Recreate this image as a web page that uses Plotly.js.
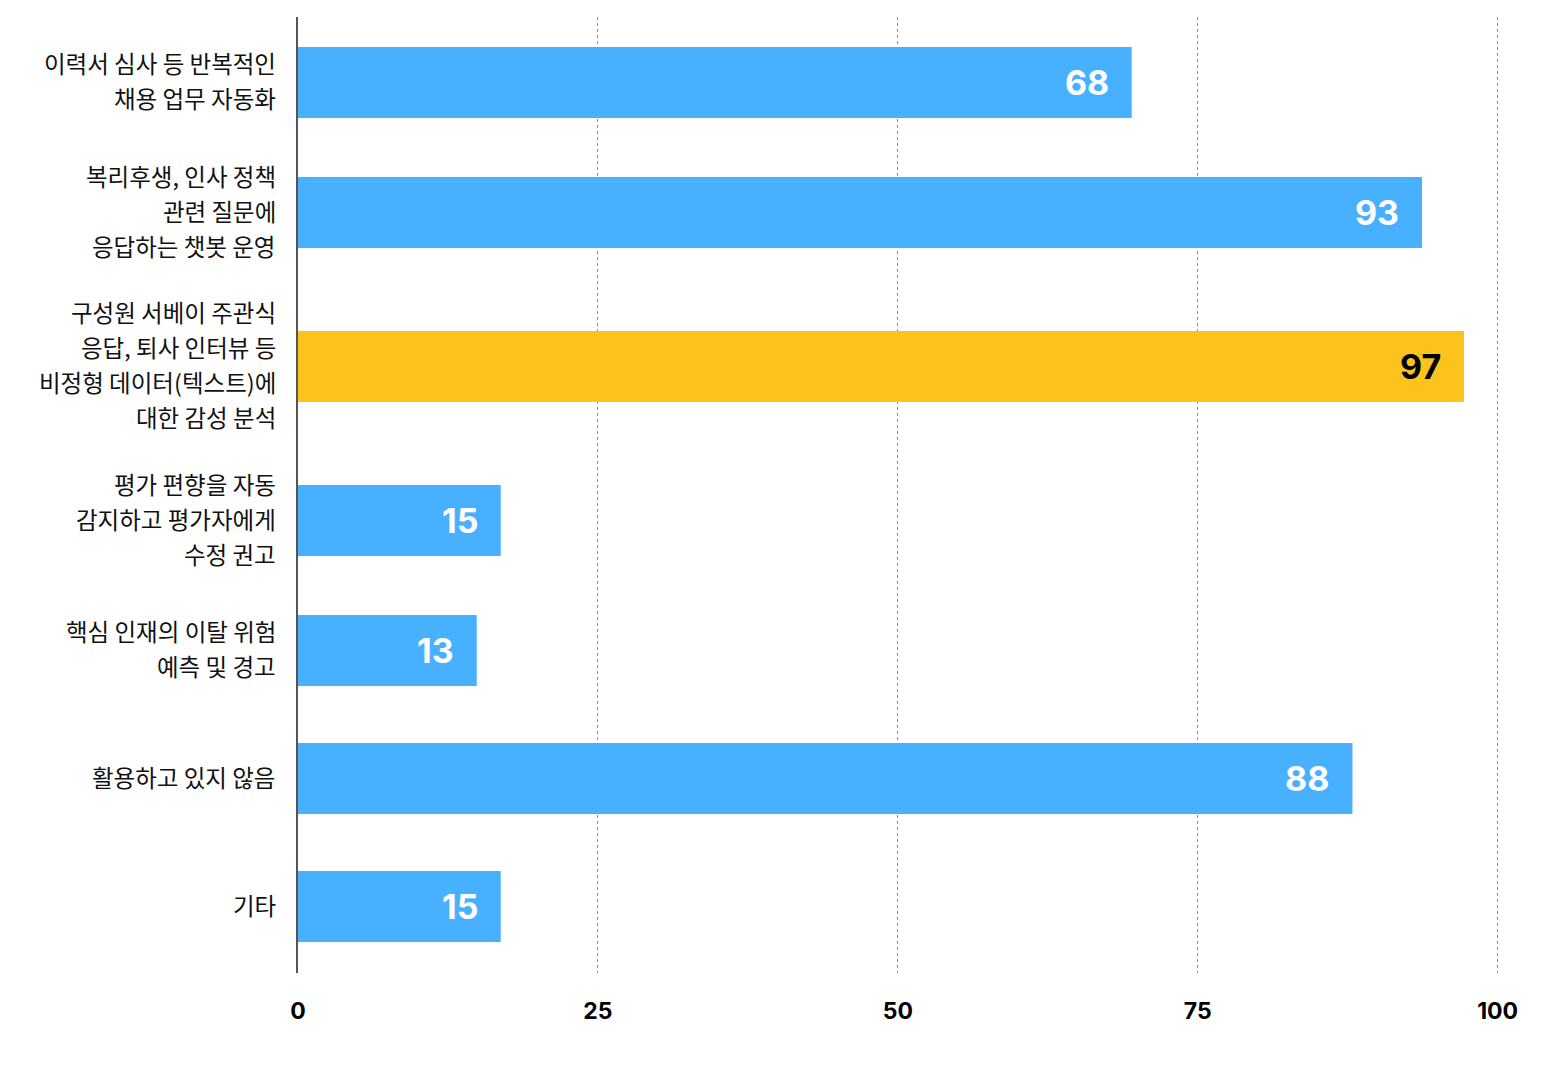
<!DOCTYPE html>
<html>
<head>
<meta charset="utf-8">
<script src="https://cdn.plot.ly/plotly-3.0.1.min.js"></script>
<style>
  html, body { margin: 0; padding: 0; background: #fff; }
  #chart { width: 1560px; height: 1065px; }
</style>
</head>
<body>
<div id="chart"></div>
<script>
'use strict';

// categories, top to bottom (line breaks as in the picture)
const categories = [
    '이력서 심사 등 반복적인<br>채용 업무 자동화',
    '복리후생, 인사 정책<br>관련 질문에<br>응답하는 챗봇 운영',
    '구성원 서베이 주관식<br>응답, 퇴사 인터뷰 등<br>비정형 데이터(텍스트)에<br>대한 감성 분석',
    '평가 편향을 자동<br>감지하고 평가자에게<br>수정 권고',
    '핵심 인재의 이탈 위험<br>예측 및 경고',
    '활용하고 있지 않음',
    '기타'
];

// bar lengths as drawn
const barValues = [69.5, 93.7, 97.2, 16.9, 14.9, 87.9, 16.9];

// numbers printed on the bars
const valueLabels = ['68', '93', '97', '15', '13', '88', '15'];

// which bar is highlighted
const highlighted = [false, false, true, false, false, false, false];

const xTicks = [0, 25, 50, 75, 100];

const BLUE = '#48b1ff';
const YELLOW = '#fbc31b';

function drawChart() {
    // rows get taller when the label needs more lines
    const lineCounts = categories.map(c => c.split('<br>').length);
    const slots = lineCounts.map(n => Math.max(128, n * 44));
    const positions = [0];
    for (let i = 1; i < slots.length; i++) {
        positions.push(positions[i - 1] + (slots[i - 1] + slots[i]) / 2);
    }

    const trace = {
        type: 'bar',
        orientation: 'h',
        x: barValues,
        y: positions,
        width: 71,
        marker: {
            color: highlighted.map(h => h ? YELLOW : BLUE),
            line: {width: 0}
        },
        hoverinfo: 'skip'
    };

    const annotations = [];

    // category labels, one annotation per line
    categories.forEach((c, i) => {
        const lines = c.split('<br>');
        lines.forEach((line, j) => {
            annotations.push({
                xref: 'paper', yref: 'y',
                x: 0, y: positions[i],
                xanchor: 'right', yanchor: 'middle',
                xshift: -20,
                yshift: ((lines.length - 1) / 2 - j) * 35 + 2,
                text: line,
                showarrow: false,
                font: {family: '"Noto Sans CJK KR", sans-serif', size: 23.5, color: '#111'}
            });
        });
    });

    // value labels inside the bar ends
    valueLabels.forEach((v, i) => {
        annotations.push({
            xref: 'x', yref: 'y',
            x: barValues[i], y: positions[i],
            xanchor: 'right', yanchor: 'middle',
            xshift: -21,
            text: v,
            showarrow: false,
            font: {family: 'Inter, sans-serif', size: 34, weight: 700,
                   color: highlighted[i] ? '#000' : '#fff'}
        });
    });

    const layout = {
        width: 1560,
        height: 1065,
        margin: {l: 298, r: 60, t: 17, b: 92},
        paper_bgcolor: '#fff',
        plot_bgcolor: '#fff',
        showlegend: false,
        xaxis: {
            // a little past 100 so the last grid line is kept
            range: [0, 100.2],
            tickvals: xTicks,
            ticktext: xTicks.map(String),
            ticks: '',
            ticklabelstandoff: 22,
            tickfont: {family: 'Inter, sans-serif', size: 23, weight: 700, color: '#000'},
            showgrid: true,
            gridcolor: '#8f8f8f',
            gridwidth: 1,
            griddash: 'dot',
            zeroline: false,
            showline: false,
            fixedrange: true
        },
        yaxis: {
            range: [890.5, -65.5],
            showticklabels: false,
            ticks: '',
            showgrid: false,
            zeroline: false,
            showline: true,
            linecolor: '#555',
            linewidth: 2,
            fixedrange: true
        },
        annotations: annotations
    };

    Plotly.newPlot('chart', [trace], layout, {displayModeBar: false, staticPlot: true});
}

window.addEventListener('load', drawChart);
</script>
</body>
</html>
